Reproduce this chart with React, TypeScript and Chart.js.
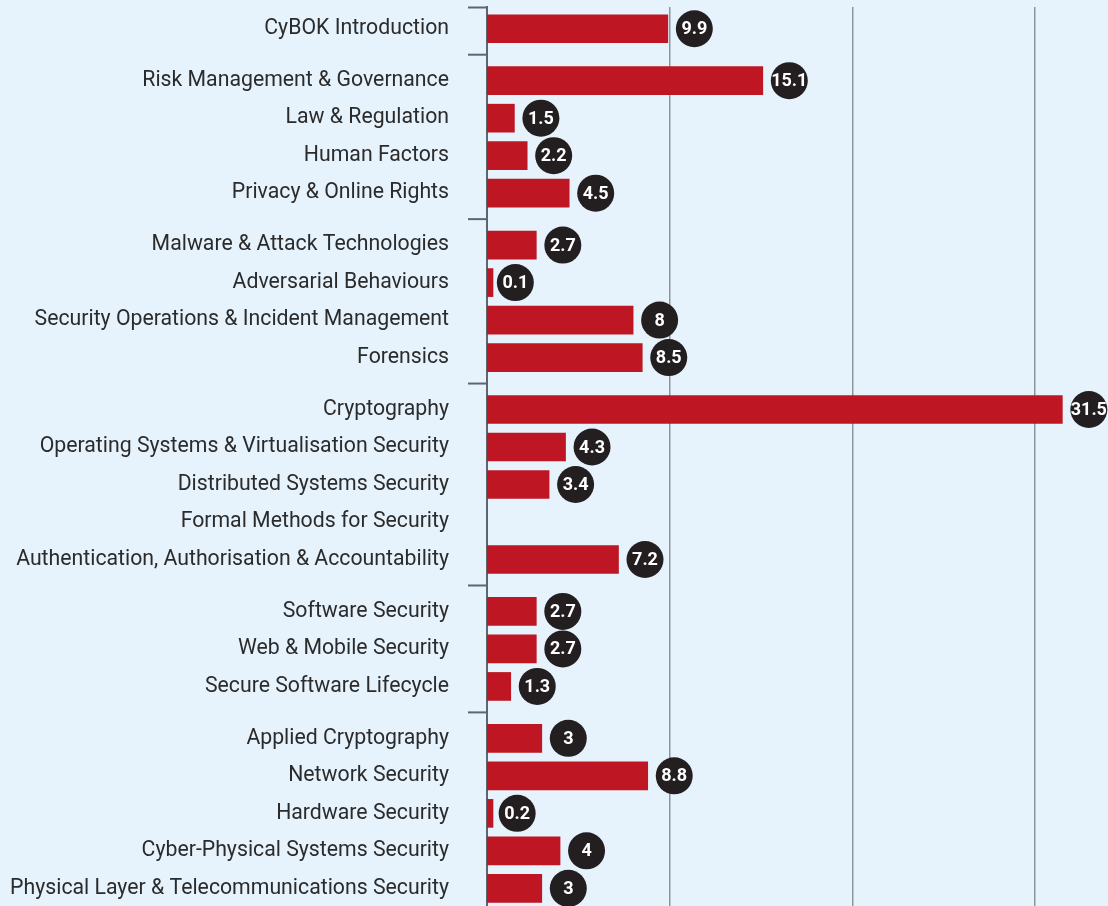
import React, { useEffect, useRef } from "react";
import { Chart, registerables } from "chart.js";

Chart.register(...registerables);

const categories = [
  "CyBOK Introduction",
  "Risk Management & Governance",
  "Law & Regulation",
  "Human Factors",
  "Privacy & Online Rights",
  "Malware & Attack Technologies",
  "Adversarial Behaviours",
  "Security Operations & Incident Management",
  "Forensics",
  "Cryptography",
  "Operating Systems & Virtualisation Security",
  "Distributed Systems Security",
  "Formal Methods for Security",
  "Authentication, Authorisation & Accountability",
  "Software Security",
  "Web & Mobile Security",
  "Secure Software Lifecycle",
  "Applied Cryptography",
  "Network Security",
  "Hardware Security",
  "Cyber-Physical Systems Security",
  "Physical Layer & Telecommunications Security",
];

const values: (number | null)[] = [
  9.9, 15.1, 1.5, 2.2, 4.5, 2.7, 0.1, 8, 8.5, 31.5, 4.3, 3.4, null, 7.2, 2.7,
  2.7, 1.3, 3, 8.8, 0.2, 4, 3,
];

const groupSizes = [1, 4, 4, 5, 3, 5];

const xTicks = [10, 20, 30];

// layout constants
const GROUP_GAP = 0.384;
const BG = "#e6f3fd";
const BAR = "#be1622";
const BUBBLE = "#231f20";

function computePositions() {
  const pos: number[] = [];
  const seps: number[] = [];
  let p = 0;
  groupSizes.forEach((n, gi) => {
    if (gi > 0) {
      p += GROUP_GAP;
      seps.push(p - (1 + GROUP_GAP) / 2);
    }
    for (let k = 0; k < n; k++) {
      pos.push(p);
      p += 1;
    }
  });
  return { pos, seps };
}

export default function App() {
  const ref = useRef<HTMLCanvasElement | null>(null);

  useEffect(() => {
    document.body.style.margin = "0";
    document.body.style.background = BG;
    const { pos, seps } = computePositions();
    const labelFor = new Map<number, string>();
    pos.forEach((p, i) => labelFor.set(Math.round(p * 1000), categories[i]));

    const data = values.map((v, i) => ({ x: v, y: pos[i] }));

    const bgPlugin = {
      id: "bg",
      beforeDraw(chart: any) {
        const { ctx, width, height } = chart;
        ctx.save();
        ctx.fillStyle = BG;
        ctx.fillRect(0, 0, width, height);
        ctx.restore();
      },
    };

    const bubblePlugin = {
      id: "bubbles",
      afterDatasetsDraw(chart: any) {
        const { ctx } = chart;
        const xs = chart.scales.x;
        const ys = chart.scales.y;
        ctx.save();
        values.forEach((v, i) => {
          if (v == null) return;
          const cx = xs.getPixelForValue(v) + 26.5;
          const cy = ys.getPixelForValue(pos[i]);
          ctx.beginPath();
          ctx.arc(cx, cy, 18.5, 0, Math.PI * 2);
          ctx.fillStyle = BUBBLE;
          ctx.fill();
          ctx.fillStyle = "#ffffff";
          ctx.font = "bold 18px Roboto";
          ctx.textAlign = "center";
          ctx.textBaseline = "middle";
          ctx.fillText(String(v), cx, cy + 1);
        });
        ctx.restore();
      },
    };

    const sepPlugin = {
      id: "seps",
      afterDraw(chart: any) {
        const { ctx, chartArea } = chart;
        const ys = chart.scales.y;
        ctx.save();
        ctx.strokeStyle = "#5d666d";
        ctx.lineWidth = 2;
        const list = [ys.min, ...seps];
        list.forEach((s) => {
          const py = s === ys.min ? chartArea.top + 0.5 : ys.getPixelForValue(s);
          ctx.beginPath();
          ctx.moveTo(chartArea.left - 19, py);
          ctx.lineTo(chartArea.left, py);
          ctx.stroke();
        });
        ctx.restore();
      },
    };

    const chart = new Chart(ref.current as HTMLCanvasElement, {
      type: "bar",
      data: {
        datasets: [
          {
            data: data as any,
            backgroundColor: BAR,
            borderWidth: 0,
            barThickness: 28,
            minBarLength: 6,
          },
        ],
      },
      options: {
        animation: false,
        responsive: false,
        maintainAspectRatio: false,
        indexAxis: "y",
        layout: { autoPadding: false, padding: { top: 7, right: 0, bottom: 0, left: 0 } },
        plugins: {
          legend: { display: false },
          tooltip: { enabled: false },
        },
        scales: {
          x: {
            type: "linear",
            position: "bottom",
            min: 0,
            max: 34,
            afterBuildTicks: (scale: any) => {
              scale.ticks = xTicks.map((v) => ({ value: v }));
            },
            afterFit: (scale: any) => {
              scale.height = 0;
            },
            ticks: { display: false },
            grid: {
              color: "#8d959b",
              lineWidth: 1.5,
              drawTicks: false,
            },
            border: { display: false },
          },
          y: {
            type: "linear",
            position: "left",
            reverse: true,
            offset: false,
            min: -0.58,
            max: 23.39,
            afterBuildTicks: (scale: any) => {
              scale.ticks = pos.map((p) => ({ value: p }));
            },
            afterFit: (scale: any) => {
              scale.width = 487;
              scale.paddingTop = 0;
              scale.paddingBottom = 0;
            },
            ticks: {
              padding: 38,
              color: "#2b2b2b",
              font: { family: "Roboto", size: 21.25 },
              autoSkip: false,
              callback: (val: any) => labelFor.get(Math.round(Number(val) * 1000)) ?? "",
            },
            grid: { display: false, drawTicks: false },
            border: { display: true, color: "#5d666d", width: 2 },
          },
        },
      },
      plugins: [bgPlugin, bubblePlugin, sepPlugin],
    });
    return () => chart.destroy();
  }, []);

  return (
    <div style={{ width: 1108, height: 906, background: BG }}>
      <canvas ref={ref} width={1108} height={906} style={{ display: "block" }} />
    </div>
  );
}
